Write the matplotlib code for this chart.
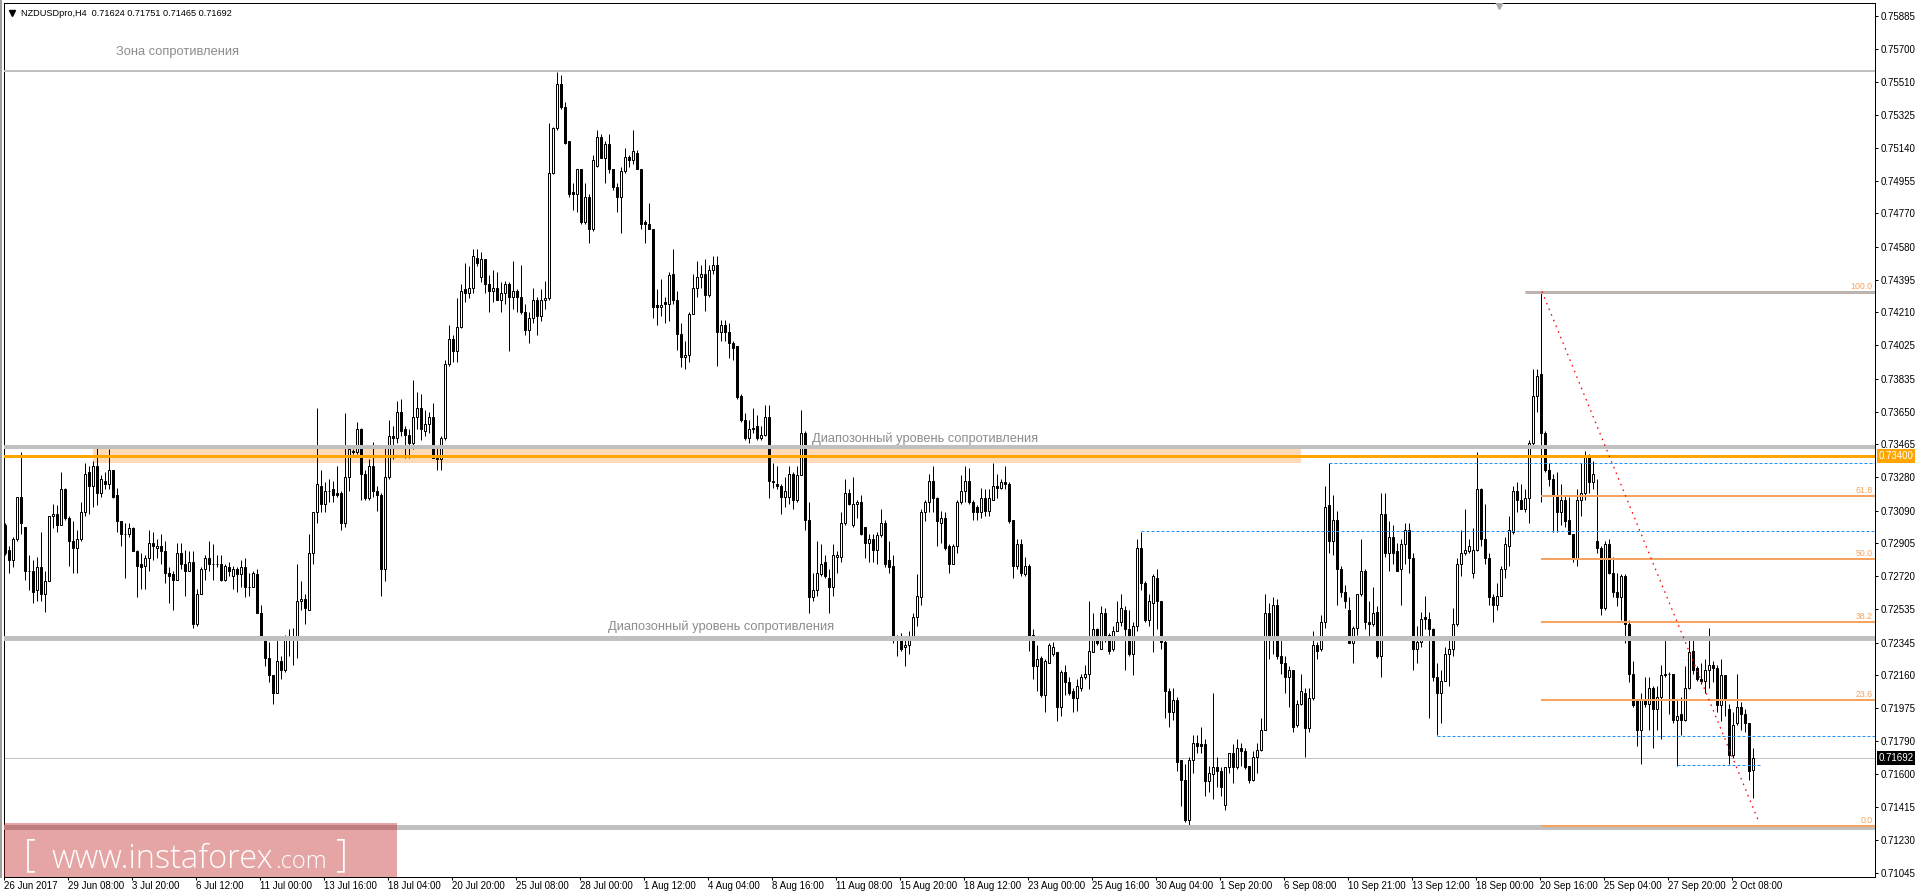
import numpy as np
import matplotlib
matplotlib.use("Agg")
import matplotlib.pyplot as plt
from matplotlib.patches import Rectangle
from matplotlib.lines import Line2D
import matplotlib.transforms as mtransforms

plt.rcParams['font.family'] = ['Liberation Sans', 'DejaVu Sans']

# NZDUSD H4 candles, prices in pips (price * 10000), one row = 16 bars
opens = [
    7301,7287,7281,7293,7317,7300,7275,7275,7264,7277,7262,7269,7306,7307,7301,7321,
    7305,7292,7288,7293,7308,7331,7323,7334,7319,7326,7324,7332,7318,7303,7296,7296,
    7299,7286,7279,7278,7282,7291,7288,7289,7286,7274,7273,7270,7285,7279,7275,7280,
    7245,7262,7276,7282,7279,7279,7279,7270,7277,7272,7276,7273,7277,7266,7266,7273,
    7251,7237,7226,7216,7206,7224,7219,7238,7236,7236,7258,7259,7253,7285,7308,7323,
    7313,7320,7321,7319,7319,7302,7328,7343,7342,7355,7330,7316,7334,7320,7318,7276,
    7328,7351,7350,7365,7355,7352,7347,7362,7367,7354,7358,7362,7339,7338,7350,7392,
    7406,7399,7413,7434,7432,7435,7452,7441,7451,7437,7433,7435,7428,7432,7437,7430,
    7433,7430,7421,7411,7418,7428,7419,7428,7429,7500,7525,7550,7537,7518,7489,7488,
    7502,7472,7486,7468,7504,7520,7508,7516,7502,7492,7486,7501,7509,7507,7511,7502,
    7472,7471,7468,7425,7424,7427,7426,7443,7428,7409,7396,7397,7420,7435,7441,7443,
    7431,7445,7448,7410,7414,7410,7404,7402,7374,7360,7350,7356,7357,7350,7352,7362,
    7326,7324,7323,7317,7317,7330,7315,7329,7353,7304,7260,7264,7273,7280,7271,7266,
    7283,7283,7302,7319,7301,7313,7314,7300,7291,7293,7287,7295,7302,7281,7278,7238,
    7236,7232,7233,7237,7249,7260,7308,7314,7326,7316,7302,7305,7289,7279,7289,7314,
    7320,7326,7314,7311,7308,7316,7309,7315,7323,7322,7325,7324,7304,7278,7290,7273,
    7278,7239,7221,7226,7205,7223,7228,7229,7198,7218,7212,7207,7203,7209,7215,7217,
    7229,7242,7231,7251,7239,7231,7241,7246,7253,7242,7228,7244,7288,7268,7247,7257,
    7271,7258,7235,7207,7195,7202,7168,7157,7134,7168,7178,7177,7177,7156,7160,7164,
    7162,7143,7164,7172,7164,7175,7173,7165,7157,7170,7174,7185,7251,7238,7256,7227,
    7223,7215,7219,7188,7200,7206,7186,7203,7233,7231,7246,7312,7292,7304,7276,7263,
    7253,7234,7243,7262,7275,7246,7245,7252,7227,7307,7285,7294,7286,7276,7290,7298,
    7282,7231,7235,7249,7248,7242,7215,7206,7213,7228,7231,7245,7279,7285,7286,7274,
    7287,7321,7293,7282,7260,7256,7261,7276,7289,7297,7320,7315,7310,7316,7347,7374,
    7386,7353,7332,7327,7318,7308,7315,7304,7296,7282,7315,7319,7340,7325,7292,7288,
    7254,7290,7274,7263,7260,7272,7245,7217,7202,7185,7202,7200,7209,7197,7204,7216,
    7217,7217,7191,7194,7191,7209,7230,7220,7214,7213,7219,7222,7220,7199,7216,7197,
    7171,7189,7198,7194,7189,7162.4,
]
highs = [
    7302,7289,7294,7317,7342,7300,7284,7281,7283,7297,7275,7306,7313,7312,7331,7322,
    7306,7303,7298,7314,7336,7334,7337,7345,7329,7331,7344,7332,7322,7303,7302,7302,
    7300,7287,7285,7284,7298,7297,7293,7296,7292,7277,7275,7291,7291,7287,7286,7286,
    7265,7277,7284,7292,7290,7284,7284,7279,7280,7278,7277,7281,7282,7274,7275,7276,
    7256,7238,7235,7216,7238,7227,7239,7242,7243,7279,7269,7262,7296,7308,7367,7332,
    7325,7327,7326,7334,7320,7364,7345,7344,7359,7356,7332,7338,7348,7323,7319,7346,
    7360,7357,7371,7372,7357,7355,7383,7376,7375,7366,7365,7370,7346,7351,7394,7414,
    7408,7429,7437,7449,7447,7457,7457,7455,7451,7442,7445,7444,7438,7439,7438,7450,
    7434,7448,7426,7421,7435,7430,7434,7439,7528,7526,7557,7555,7540,7518,7494,7502,
    7502,7494,7488,7510,7524,7522,7518,7522,7502,7494,7503,7514,7510,7524,7513,7502,
    7473,7483,7468,7434,7440,7430,7444,7457,7433,7415,7405,7421,7443,7450,7448,7451,
    7448,7453,7453,7417,7417,7415,7405,7402,7375,7364,7360,7367,7363,7357,7369,7369,
    7336,7334,7324,7328,7334,7331,7334,7366,7354,7314,7274,7292,7290,7284,7276,7290,
    7286,7308,7327,7321,7328,7315,7318,7300,7296,7296,7297,7310,7304,7292,7284,7239,
    7240,7236,7241,7251,7273,7310,7315,7330,7334,7317,7309,7308,7290,7290,7315,7329,
    7334,7333,7315,7312,7322,7321,7321,7336,7330,7327,7334,7325,7304,7293,7293,7283,
    7279,7242,7233,7227,7225,7234,7235,7229,7219,7222,7215,7209,7214,7217,7222,7258,
    7251,7243,7255,7254,7240,7244,7258,7262,7255,7253,7246,7293,7297,7269,7262,7273,
    7276,7258,7236,7209,7209,7204,7168,7166,7170,7182,7182,7187,7180,7165,7206,7170,
    7164,7164,7172,7177,7180,7178,7175,7165,7173,7178,7192,7262,7257,7260,7259,7236,
    7227,7221,7219,7202,7217,7209,7209,7241,7235,7250,7323,7336,7318,7309,7278,7267,
    7260,7244,7262,7293,7276,7258,7266,7255,7319,7319,7303,7301,7291,7293,7302,7302,
    7285,7244,7252,7261,7252,7243,7223,7219,7232,7238,7254,7282,7298,7310,7293,7299,
    7342,7322,7313,7285,7262,7268,7278,7294,7306,7323,7325,7324,7321,7349,7389,7389,
    7433,7354,7336,7330,7331,7324,7318,7317,7296,7321,7336,7343,7341,7337,7327,7289,
    7292,7293,7283,7274,7273,7273,7247,7224,7202,7206,7215,7215,7210,7210,7222,7238,
    7218,7217,7202,7204,7221,7238,7238,7221,7223,7225,7243,7224,7222,7225,7216,7200,
    7195,7217,7201,7197,7189,7175.1,
]
lows = [
    7284,7274,7277,7292,7296,7270,7264,7257,7258,7258,7252,7269,7299,7297,7301,7304,
    7278,7274,7274,7292,7306,7307,7311,7312,7317,7321,7321,7316,7297,7289,7271,7294,
    7286,7260,7265,7265,7275,7281,7282,7279,7268,7257,7253,7270,7276,7261,7275,7243,
    7244,7262,7270,7275,7270,7277,7269,7269,7272,7265,7263,7266,7260,7261,7266,7251,
    7236,7221,7212,7200,7206,7214,7218,7227,7222,7226,7253,7245,7253,7279,7302,7308,
    7308,7314,7314,7317,7298,7300,7320,7341,7341,7315,7315,7315,7317,7309,7261,7269,
    7327,7338,7347,7351,7339,7339,7344,7355,7349,7351,7353,7339,7332,7332,7349,7391,
    7393,7393,7412,7427,7429,7432,7447,7438,7432,7421,7427,7428,7421,7426,7399,7423,
    7421,7420,7408,7404,7415,7408,7416,7423,7428,7499,7524,7536,7516,7486,7479,7478,
    7471,7471,7460,7467,7503,7508,7494,7500,7490,7478,7466,7500,7503,7505,7502,7468,
    7460,7468,7418,7414,7419,7415,7416,7426,7400,7390,7389,7393,7420,7430,7435,7422,
    7430,7443,7391,7405,7405,7395,7394,7372,7359,7349,7347,7353,7349,7349,7351,7316,
    7322,7321,7307,7311,7313,7310,7314,7329,7298,7251,7258,7261,7272,7271,7251,7261,
    7274,7280,7301,7312,7300,7305,7295,7282,7280,7280,7279,7294,7277,7274,7234,7227,
    7230,7221,7228,7236,7244,7256,7303,7308,7308,7289,7291,7287,7274,7279,7285,7313,
    7314,7313,7304,7304,7305,7306,7306,7315,7316,7321,7321,7302,7271,7276,7272,7272,
    7230,7214,7207,7204,7195,7223,7227,7190,7193,7205,7205,7195,7196,7207,7214,7208,
    7229,7233,7231,7235,7228,7230,7241,7244,7219,7227,7216,7241,7264,7246,7244,7229,
    7242,7231,7192,7187,7191,7162,7142,7133,7130,7161,7172,7172,7148,7150,7146,7153,
    7148,7140,7161,7155,7163,7165,7163,7155,7156,7161,7173,7185,7225,7228,7225,7217,
    7206,7198,7184,7187,7199,7170,7184,7202,7225,7230,7243,7285,7284,7256,7260,7254,
    7234,7223,7239,7261,7242,7238,7244,7226,7215,7283,7275,7279,7275,7256,7279,7274,
    7219,7223,7232,7242,7192,7213,7182,7189,7213,7210,7227,7244,7272,7284,7285,7271,
    7286,7289,7279,7256,7246,7253,7261,7271,7278,7296,7308,7310,7308,7302,7345,7365,
    7314,7331,7323,7297,7297,7301,7300,7296,7280,7278,7306,7315,7319,7321,7285,7250,
    7253,7273,7260,7255,7247,7234,7212,7198,7176,7166,7198,7185,7175,7185,7180,7215,
    7194,7189,7165,7182,7190,7208,7217,7213,7211,7206,7209,7212,7195,7190,7193,7166,
    7169,7188,7185,7184,7157,7146.5,
]
closes = [
    7285,7281,7293,7317,7302,7275,7275,7263,7277,7262,7269,7306,7307,7301,7321,7305,
    7292,7288,7293,7308,7330,7323,7334,7319,7327,7324,7332,7317,7303,7296,7296,7299,
    7286,7278,7277,7282,7291,7289,7289,7286,7274,7272,7270,7285,7279,7275,7280,7245,
    7262,7276,7282,7279,7279,7279,7270,7278,7275,7276,7273,7277,7266,7266,7274,7251,
    7236,7226,7216,7206,7224,7219,7238,7236,7236,7258,7259,7254,7285,7308,7324,7313,
    7320,7320,7318,7318,7302,7328,7344,7342,7355,7330,7316,7334,7320,7318,7276,7328,
    7351,7350,7365,7354,7352,7347,7362,7367,7355,7358,7362,7339,7338,7350,7392,7406,
    7399,7413,7433,7432,7435,7453,7449,7451,7437,7433,7435,7428,7432,7437,7430,7433,
    7430,7421,7411,7418,7428,7419,7428,7429,7500,7525,7550,7537,7517,7488,7488,7502,
    7472,7486,7468,7507,7520,7508,7516,7502,7492,7486,7501,7509,7507,7512,7502,7471,
    7471,7468,7424,7424,7425,7426,7442,7428,7409,7396,7397,7420,7435,7441,7443,7431,
    7445,7448,7410,7414,7410,7404,7401,7373,7360,7350,7355,7355,7350,7352,7362,7326,
    7325,7323,7317,7320,7330,7315,7329,7353,7304,7260,7264,7274,7279,7272,7266,7284,
    7284,7302,7319,7313,7313,7314,7296,7291,7293,7287,7295,7302,7279,7277,7238,7236,
    7231,7233,7237,7249,7261,7308,7314,7326,7316,7303,7305,7288,7279,7289,7314,7320,
    7326,7314,7308,7308,7316,7309,7316,7323,7322,7325,7324,7303,7278,7290,7274,7278,
    7238,7221,7225,7205,7224,7233,7232,7198,7218,7212,7206,7203,7210,7215,7217,7230,
    7242,7234,7251,7238,7230,7241,7246,7254,7242,7228,7244,7288,7268,7247,7258,7272,
    7258,7235,7207,7195,7202,7167,7157,7134,7168,7178,7176,7176,7156,7161,7164,7162,
    7153,7164,7172,7164,7175,7173,7164,7157,7170,7174,7185,7251,7238,7256,7227,7223,
    7215,7219,7187,7200,7207,7186,7203,7233,7230,7246,7311,7292,7304,7276,7263,7258,
    7234,7243,7262,7275,7246,7245,7251,7227,7307,7285,7294,7285,7275,7290,7298,7282,
    7231,7235,7248,7248,7242,7215,7206,7213,7228,7231,7245,7279,7285,7287,7289,7287,
    7321,7293,7282,7260,7256,7261,7276,7290,7298,7320,7315,7310,7316,7347,7374,7385,
    7353,7332,7327,7318,7308,7315,7303,7296,7282,7315,7319,7340,7325,7330,7288,7254,
    7290,7274,7263,7260,7272,7245,7217,7199,7185,7202,7200,7209,7197,7204,7216,7217,
    7217,7191,7193,7191,7209,7229,7219,7214,7213,7219,7222,7220,7199,7216,7202,7171,
    7188,7198,7194,7189,7162,7169.2,
]

# time axis labels (one every 16 bars)
date_labels = ["26 Jun 2017", "29 Jun 08:00", "3 Jul 20:00", "6 Jul 12:00", "11 Jul 00:00",
               "13 Jul 16:00", "18 Jul 04:00", "20 Jul 20:00", "25 Jul 08:00", "28 Jul 00:00",
               "1 Aug 12:00", "4 Aug 04:00", "8 Aug 16:00", "11 Aug 08:00", "15 Aug 20:00",
               "18 Aug 12:00", "23 Aug 00:00", "25 Aug 16:00", "30 Aug 04:00", "1 Sep 20:00",
               "6 Sep 08:00", "10 Sep 21:00", "13 Sep 12:00", "18 Sep 00:00", "20 Sep 16:00",
               "25 Sep 04:00", "27 Sep 20:00", "2 Oct 08:00"]

# price scale labels shown by the terminal
price_ticks = [0.75885, 0.75700, 0.75510, 0.75325, 0.75140, 0.74955, 0.74770, 0.74580,
               0.74395, 0.74210, 0.74025, 0.73835, 0.73650, 0.73465, 0.73280, 0.73090,
               0.72905, 0.72720, 0.72535, 0.72345, 0.72160, 0.71975, 0.71790, 0.71600,
               0.71415, 0.71230, 0.71045]

# chart objects
zone_level = 0.75574
range_gray_top = 0.73450
range_gray_low = 0.72372
support_gray = 0.71303
orange_level = 0.73400
band_bars = [22, 324]
band_prices = [0.73359, 0.73438]
bid_price = 0.71692

fib_low = 0.71309
fib_high = 0.74328
fib_pcts = [0.0, 23.6, 38.2, 50.0, 61.8, 100.0]
fib_start = 384

blue_starts = [331, 284, 358, 418]
blue_prices = [0.73358, 0.72975, 0.71818, 0.71653]
blue_ends = [None, None, None, 438.75]

trend_x = [384.25, 438.5]
trend_y = [0.74328, 0.71330]

# ---------------------------------------------------------------
W, H = 1920, 892
fig = plt.figure(figsize=(W / 100, H / 100), dpi=100)
ax = fig.add_axes([4 / W, 15 / H, 1871 / W, 874 / H])
XMAX = 467.5
ax.set_xlim(-0.25, XMAX)
ax.set_ylim(0.710204, 0.759585)

px = 0.72  # one pixel in points

o = np.array(opens) / 10000
h = np.array(highs) / 10000
l = np.array(lows) / 10000
c = np.array(closes) / 10000
n = min(len(o), len(h), len(l), len(c))
o, h, l, c = o[:n], h[:n], l[:n], c[:n]
h = np.maximum(h, np.maximum(o, c))
l = np.minimum(l, np.minimum(o, c))
x = np.arange(n)

# background rectangle
ax.add_patch(Rectangle((band_bars[0], band_prices[0]), band_bars[1] - band_bars[0],
                       band_prices[1] - band_prices[0], facecolor='#FFDAB9',
                       edgecolor='none', zorder=0.5))

# bid line
ax.axhline(bid_price, color='#C0C0C0', lw=px, zorder=1)

# candles
ax.vlines(x, l, h, color='black', lw=px, zorder=3)
up = c >= o
ax.bar(x[up], (c - o)[up], bottom=o[up], width=0.5, facecolor='white',
       edgecolor='black', linewidth=px, zorder=3.5)
ax.bar(x[~up], (o - c)[~up], bottom=c[~up], width=0.5, facecolor='black',
       edgecolor='black', linewidth=px, zorder=3.5)

# horizontal zone lines
ax.axhline(zone_level, color='#C0C0C0', lw=2 * px, zorder=4)
ax.axhline(range_gray_top, color='#C0C0C0', lw=4 * px, zorder=4)
ax.axhline(range_gray_low, color='#C0C0C0', lw=5 * px, zorder=4)
ax.axhline(support_gray, color='#C0C0C0', lw=5 * px, zorder=4)
ax.axhline(orange_level, color='#FFA500', lw=3 * px, zorder=4.2)

# fibonacci
ax.hlines(fib_high, 380, XMAX, color='#BDB3AE', lw=3 * px, zorder=4)
for p in fib_pcts:
    lvl = fib_low + (fib_high - fib_low) * p / 100
    if p < 100:
        ax.hlines(lvl, fib_start, XMAX, color='#F4A460', lw=2 * px, zorder=4.3)
    ax.text(XMAX - 0.6, lvl + 0.00006, f"{p:.1f}", color='#F4A460', fontsize=6.3,
            ha='right', va='bottom', zorder=5)

# blue dashed levels
for s, p, e in zip(blue_starts, blue_prices, blue_ends):
    ax.hlines(p, s, XMAX if e is None else e, color='#1E90FF', lw=px,
              linestyles=(0, (3, 2)), zorder=4.5)

# red dotted trend line
ax.plot(trend_x, trend_y, color='red', lw=px * 1.3, linestyle=(0, (1.2, 3.5)), zorder=4.6)

# texts
grey_txt = '#8C8C8C'
ax.text(27.75, 0.75682, "Зона сопротивления", color=grey_txt, fontsize=9.3,
        ha='left', va='center', zorder=5)
ax.text(201.75, 0.73495, "Диапозонный уровень сопротивления", color=grey_txt,
        fontsize=9.3, ha='left', va='center', zorder=5)
ax.text(150.75, 0.72433, "Диапозонный уровень сопротивления", color=grey_txt,
        fontsize=9.3, ha='left', va='center', zorder=5)

# header
ax.plot([1.8], [0.7590], marker='v', color='black', markersize=4.5, zorder=6)
ax.text(3.9, 0.75900, "NZDUSDpro,H4  0.71624 0.71751 0.71465 0.71692", fontsize=6.6,
        ha='left', va='center', color='black', zorder=6)
# chart shift marker
ax.plot([373.5], [0.75946], marker='v', color='#A8A8A8', markersize=6, zorder=6)

# axes styling
for sp in ax.spines.values():
    sp.set_color('black')
    sp.set_linewidth(px)
ax.set_facecolor('white')
ax.yaxis.tick_right()
ax.set_yticks(price_ticks)
ax.set_yticklabels([f"{v:.5f}" for v in price_ticks])
ax.tick_params(axis='y', direction='out', length=2.3, width=px, pad=1.6,
               labelsize=7, colors='black')
ax.set_xticks([16 * k - 0.25 for k in range(len(date_labels))])
ax.set_xticklabels(date_labels)
for lbl in ax.get_xticklabels():
    lbl.set_horizontalalignment('left')
ax.tick_params(axis='x', direction='out', length=2.3, width=px, pad=0.8,
               labelsize=7, colors='black')

# highlighted price labels on the scale
trans = mtransforms.blended_transform_factory(ax.transAxes, ax.transData)
ax.text(1.0 + 3.5 / 1871, orange_level, f"{orange_level:.5f}", transform=trans,
        fontsize=7, color='white', ha='left', va='center', zorder=7,
        bbox=dict(boxstyle='square,pad=0.18', fc='#FFA500', ec='none'))
ax.text(1.0 + 3.5 / 1871, bid_price, f"{bid_price:.5f}", transform=trans,
        fontsize=7, color='white', ha='left', va='center', zorder=7,
        bbox=dict(boxstyle='square,pad=0.18', fc='black', ec='none'))

# left window edge
fig.add_artist(Line2D([1 / W, 1 / W], [15 / H, 1.0], color='#A0A0A0', lw=2 * px))

# watermark
fig.add_artist(Rectangle((4 / W, 15 / H), 393 / W, 54 / H, transform=fig.transFigure,
                         facecolor=(0.745, 0.078, 0.078), alpha=0.38, edgecolor='none',
                         zorder=10))
base_y = (H - 868) / H
wm = dict(color='white', va='baseline', ha='left', zorder=11,
          family=['Open Sans', 'DejaVu Sans'], fontweight='light')
fig.text(24 / W, base_y + 2 / H, "[", fontsize=27, **wm)
t_main = fig.text(52 / W, base_y, "www.instaforex", fontsize=23.5, **wm)
fig.canvas.draw()
bb = t_main.get_window_extent()
t_com = fig.text(bb.x1 / W + 1 / W, base_y, ".com", fontsize=17, **wm)
fig.canvas.draw()
bb2 = t_com.get_window_extent()
fig.text(bb2.x1 / W + 9 / W, base_y + 2 / H, "]", fontsize=27, **wm)

fig.savefig("out.png", dpi=100, facecolor='white')
